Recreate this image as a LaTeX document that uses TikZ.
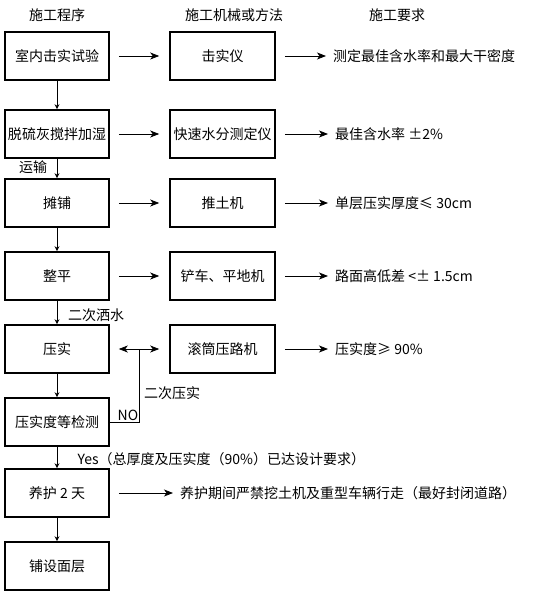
\documentclass[tikz,border=0pt]{standalone}
\usepackage{fontspec}
\setmainfont{Noto Sans CJK SC}
\usetikzlibrary{arrows.meta,positioning}

\begin{document}
\begin{tikzpicture}[x=1pt,y=-1pt,
  font=\fontsize{14}{16}\selectfont,
  stepbox/.style={draw,line width=1.6pt,minimum width=104pt,minimum height=48pt,inner sep=0pt},
  toolbox/.style={stepbox,minimum width=105pt},
  req/.style={anchor=west,inner sep=0pt},
  flow/.style={-{Stealth[length=9pt,width=7pt,inset=2.5pt]},line width=0.8pt,shorten <=9pt,shorten >=10pt},
  down/.style={-{Stealth[length=5pt,width=5pt]},line width=0.7pt}
]
  \useasboundingbox (0,0) rectangle (554,593);

  % column heads
  \node (hstep) at (57,15) {施工程序};
  \node (htool) at (234,15) {施工机械或方法};
  \node (hreq) at (397,15) {施工要求};

  % procedure
  \node[stepbox] (s1) at (57,56) {室内击实试验};
  \node[stepbox] (s2) at (57,134) {脱硫灰搅拌加湿};
  \node[stepbox] (s3) at (57,203) {摊铺};
  \node[stepbox] (s4) at (57,276) {整平};
  \node[stepbox] (s5) at (57,349) {压实};
  \node[stepbox] (s6) at (57,422) {压实度等检测};
  \node[stepbox] (s7) at (57,493) {养护 2 天};
  \node[stepbox] (s8) at (57,566) {铺设面层};

  % machines
  \node[toolbox] (t1) at (222.5,56) {击实仪};
  \node[toolbox] (t2) at (222.5,134) {快速水分测定仪};
  \node[toolbox] (t3) at (222.5,203) {推土机};
  \node[toolbox] (t4) at (222.5,276) {铲车、平地机};
  \node[toolbox] (t5) at (222.5,349) {滚筒压路机};

  % requirements
  \node[req] (r1) at (333,56) {测定最佳含水率和最大干密度};
  \node[req] (r2) at (335,134) {最佳含水率 ±2\%};
  \node[req] (r3) at (335,203) {单层压实厚度≤ 30cm};
  \node[req] (r4) at (335,276) {路面高低差 <± 1.5cm};
  \node[req] (r5) at (335,349) {压实度≥ 90\%};
  \node[req] (r7) at (180,493) {养护期间严禁挖土机及重型车辆行走（最好封闭道路）};

  \draw[flow] (s1) -- (t1);
  \draw[flow] (s2) -- (t2);
  \draw[flow] (s3) -- (t3);
  \draw[flow] (s4) -- (t4);
  \draw[flow,{Stealth[length=9pt,width=7pt,inset=2.5pt]}-{Stealth[length=9pt,width=7pt,inset=2.5pt]}] (s5) -- (t5);
  \draw[flow,shorten >=7pt] (s7) -- (r7);
  \draw[flow,shorten >=7pt] (t1) -- (r1);
  \draw[flow,shorten >=7pt] (t2) -- (r2);
  \draw[flow,shorten >=7pt] (t3) -- (r3);
  \draw[flow,shorten >=7pt] (t4) -- (r4);
  \draw[flow,shorten >=7pt] (t5) -- (r5);

  \draw[down] (s1) -- (s2);
  \draw[down] (s2) -- (s3);
  \draw[down] (s3) -- (s4);
  \draw[down] (s4) -- (s5);
  \draw[down] (s5) -- (s6);
  \draw[down] (s6) -- (s7);
  \draw[down] (s7) -- (s8);

  % second compaction loop
  \coordinate (loopup) at (139,349);
  \draw[line width=0.8pt] (s6.east) -| (loopup);
  \node (no) at (128,415) {NO};
  \node (again) at (172,393) {二次压实};

  \node (ship) at (33,167) {运输};
  \node (water) at (96,315) {二次洒水};
  \node[anchor=west] (yes) at (74,459) {Yes（总厚度及压实度（90\%）已达设计要求）};
\end{tikzpicture}
\end{document}
